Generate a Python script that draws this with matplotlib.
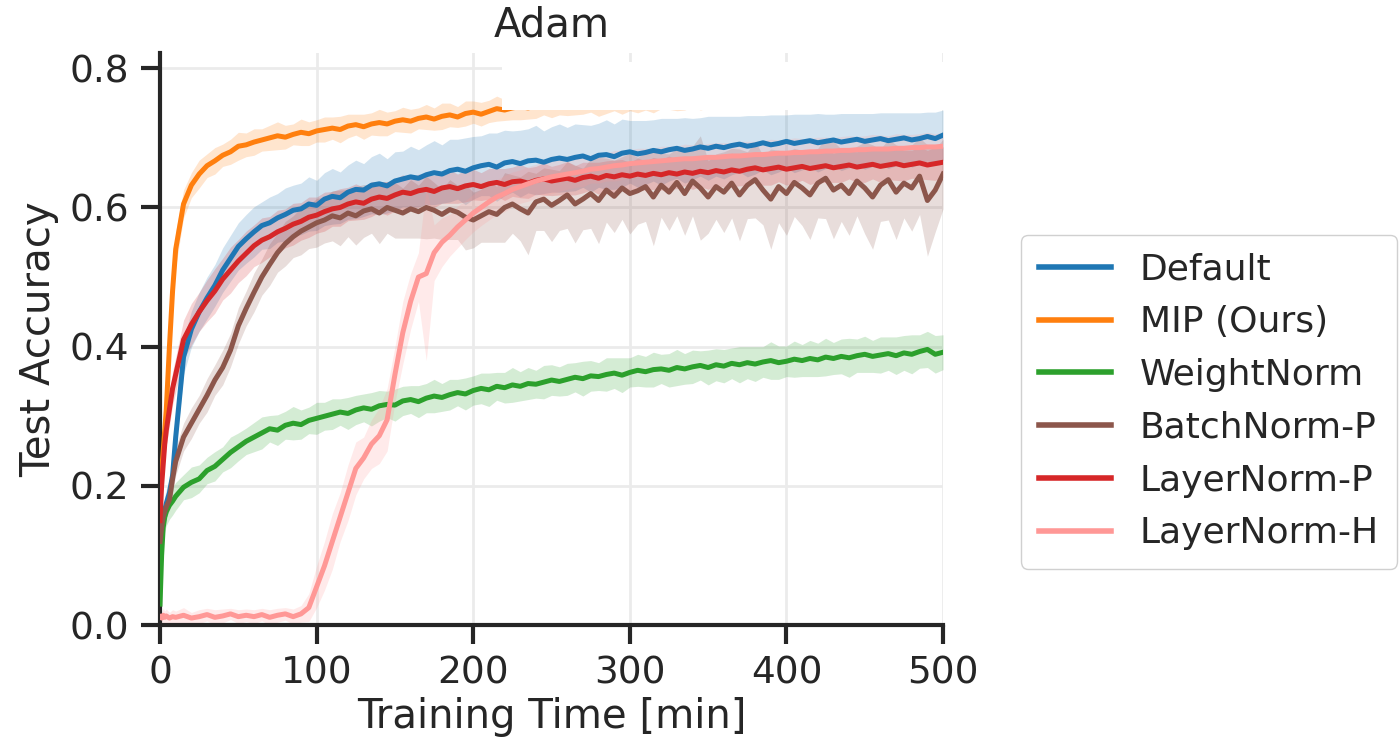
import matplotlib
matplotlib.use("Agg")
import matplotlib.pyplot as plt
from matplotlib.patches import Rectangle
import numpy as np

# eje x: minutos de entrenamiento
minutes = [0, 1, 2, 3, 4, 6, 8] + list(range(10, 505, 5))

labels = ["Default", "MIP (Ours)", "WeightNorm", "BatchNorm-P", "LayerNorm-P", "LayerNorm-H"]
colors = ["#1f77b4", "#ff7f0e", "#2ca02c", "#8c564b", "#d62728", "#ff9896"]

# valores medios
default_mean = [0.10, 0.13, 0.15, 0.165, 0.175, 0.19, 0.215,
    0.27, 0.385, 0.425, 0.45, 0.47, 0.488, 0.51, 0.527, 0.544, 0.555,
    0.565, 0.574, 0.578, 0.585, 0.59, 0.596, 0.598, 0.605, 0.603, 0.612,
    0.616, 0.614, 0.622, 0.626, 0.625, 0.632, 0.634, 0.631, 0.638, 0.641,
    0.644, 0.642, 0.647, 0.65, 0.648, 0.653, 0.655, 0.652, 0.657, 0.66,
    0.662, 0.658, 0.664, 0.666, 0.663, 0.667, 0.668, 0.665, 0.669, 0.671,
    0.669, 0.672, 0.674, 0.67, 0.675, 0.676, 0.673, 0.678, 0.68, 0.677,
    0.679, 0.682, 0.68, 0.683, 0.685, 0.682, 0.684, 0.687, 0.685, 0.688,
    0.686, 0.689, 0.691, 0.688, 0.69, 0.693, 0.69, 0.692, 0.695, 0.692,
    0.694, 0.696, 0.693, 0.695, 0.697, 0.694, 0.696, 0.698, 0.695, 0.697,
    0.699, 0.696, 0.698, 0.7, 0.697, 0.699, 0.702, 0.699, 0.704]
mip_mean = [0.20, 0.22, 0.25, 0.28, 0.31, 0.40, 0.48,
    0.54, 0.605, 0.632, 0.648, 0.66, 0.667, 0.675, 0.68, 0.688, 0.69,
    0.694, 0.697, 0.70, 0.703, 0.701, 0.705, 0.708, 0.706, 0.71, 0.712,
    0.714, 0.712, 0.717, 0.719, 0.716, 0.72, 0.722, 0.72, 0.724, 0.726,
    0.724, 0.728, 0.73, 0.727, 0.731, 0.733, 0.73, 0.735, 0.737, 0.734,
    0.738, 0.742, 0.74, 0.743, 0.745, 0.743, 0.746, 0.748, 0.746, 0.749,
    0.75, 0.748, 0.751, 0.753, 0.75, 0.752, 0.754, 0.752, 0.755, 0.753,
    0.756, 0.754, 0.757, 0.758, 0.755, 0.758, 0.76, 0.757, 0.759, 0.761,
    0.759, 0.762, 0.76, 0.763, 0.761, 0.764, 0.762, 0.765, 0.763, 0.766,
    0.764, 0.766, 0.765, 0.767, 0.765, 0.768, 0.766, 0.769, 0.767, 0.768,
    0.77, 0.768, 0.769, 0.771, 0.769, 0.77, 0.772, 0.77, 0.771]
weightnorm_mean = [0.03, 0.10, 0.14, 0.155, 0.163, 0.172, 0.178,
    0.185, 0.198, 0.205, 0.21, 0.222, 0.228, 0.238, 0.248, 0.256, 0.264,
    0.27, 0.276, 0.282, 0.28, 0.287, 0.29, 0.288, 0.294, 0.297, 0.3,
    0.303, 0.306, 0.304, 0.309, 0.312, 0.31, 0.315, 0.317, 0.316, 0.322,
    0.324, 0.321, 0.326, 0.329, 0.327, 0.331, 0.334, 0.332, 0.337, 0.34,
    0.338, 0.343, 0.341, 0.345, 0.343, 0.347, 0.346, 0.349, 0.352, 0.35,
    0.353, 0.356, 0.354, 0.358, 0.357, 0.36, 0.362, 0.359, 0.363, 0.366,
    0.364, 0.367, 0.368, 0.366, 0.37, 0.368, 0.371, 0.373, 0.37, 0.374,
    0.372, 0.376, 0.374, 0.377, 0.375, 0.378, 0.38, 0.377, 0.379, 0.382,
    0.38, 0.383, 0.381, 0.385, 0.383, 0.386, 0.384, 0.387, 0.389, 0.386,
    0.388, 0.39, 0.387, 0.391, 0.389, 0.393, 0.396, 0.389, 0.392]
batchnorm_mean = [0.12, 0.14, 0.155, 0.163, 0.17, 0.18, 0.21,
    0.235, 0.27, 0.29, 0.31, 0.33, 0.352, 0.37, 0.395, 0.43, 0.455,
    0.478, 0.5, 0.518, 0.535, 0.548, 0.558, 0.566, 0.572, 0.578, 0.582,
    0.588, 0.585, 0.592, 0.588, 0.595, 0.598, 0.592, 0.6, 0.596, 0.592,
    0.598, 0.594, 0.6, 0.596, 0.59, 0.597, 0.593, 0.586, 0.582, 0.588,
    0.594, 0.59, 0.6, 0.605, 0.598, 0.592, 0.608, 0.612, 0.603, 0.61,
    0.618, 0.605, 0.612, 0.62, 0.61, 0.625, 0.616, 0.628, 0.62, 0.624,
    0.63, 0.615, 0.632, 0.622, 0.636, 0.62, 0.638, 0.628, 0.615, 0.63,
    0.622, 0.635, 0.618, 0.632, 0.64, 0.625, 0.612, 0.63, 0.62, 0.636,
    0.628, 0.618, 0.635, 0.642, 0.625, 0.632, 0.62, 0.638, 0.628, 0.615,
    0.632, 0.64, 0.622, 0.635, 0.628, 0.645, 0.61, 0.625, 0.648]
layernorm_p_mean = [0.15, 0.2, 0.23, 0.26, 0.28, 0.31, 0.34,
    0.36, 0.41, 0.432, 0.45, 0.466, 0.48, 0.497, 0.51, 0.523, 0.534,
    0.545, 0.553, 0.558, 0.565, 0.57, 0.576, 0.58, 0.586, 0.589, 0.594,
    0.598, 0.6, 0.605, 0.608, 0.606, 0.612, 0.615, 0.613, 0.618, 0.622,
    0.62, 0.624, 0.626, 0.623, 0.628, 0.63, 0.627, 0.631, 0.633, 0.63,
    0.634, 0.636, 0.633, 0.637, 0.638, 0.635, 0.639, 0.641, 0.638, 0.64,
    0.642, 0.639, 0.643, 0.645, 0.642, 0.646, 0.644, 0.647, 0.645, 0.648,
    0.646, 0.649, 0.647, 0.65, 0.648, 0.651, 0.649, 0.652, 0.65, 0.653,
    0.651, 0.654, 0.652, 0.655, 0.657, 0.654, 0.656, 0.658, 0.655, 0.657,
    0.659, 0.656, 0.658, 0.66, 0.657, 0.659, 0.661, 0.658, 0.66, 0.662,
    0.659, 0.661, 0.663, 0.66, 0.662, 0.664, 0.661, 0.663, 0.665]
layernorm_h_mean = [0.012, 0.01, 0.014, 0.011, 0.013, 0.01, 0.012,
    0.011, 0.014, 0.01, 0.012, 0.015, 0.011, 0.013, 0.016, 0.012, 0.014,
    0.012, 0.015, 0.011, 0.014, 0.016, 0.012, 0.016, 0.025, 0.055, 0.085,
    0.12, 0.155, 0.19, 0.225, 0.24, 0.26, 0.272, 0.295, 0.36, 0.42,
    0.465, 0.50, 0.505, 0.535, 0.55, 0.56, 0.572, 0.582, 0.592, 0.60,
    0.608, 0.615, 0.62, 0.626, 0.63, 0.634, 0.638, 0.641, 0.644, 0.646,
    0.648, 0.65, 0.652, 0.655, 0.656, 0.658, 0.66, 0.661, 0.663, 0.664,
    0.665, 0.666, 0.667, 0.668, 0.669, 0.67, 0.67, 0.671, 0.672, 0.672,
    0.673, 0.674, 0.674, 0.675, 0.676, 0.676, 0.677, 0.678, 0.678, 0.679,
    0.679, 0.68, 0.68, 0.681, 0.681, 0.682, 0.682, 0.683, 0.683, 0.684,
    0.684, 0.684, 0.685, 0.685, 0.686, 0.686, 0.687, 0.687, 0.688]

# media anchura de la banda sombreada
default_band = [0.02, 0.02, 0.02, 0.02, 0.02, 0.02, 0.022,
    0.022, 0.025, 0.026, 0.028, 0.03, 0.03, 0.032, 0.033, 0.034, 0.035,
    0.036, 0.034, 0.037, 0.035, 0.038, 0.036, 0.037, 0.039, 0.036, 0.038,
    0.04, 0.037, 0.039, 0.042, 0.038, 0.041, 0.044, 0.039, 0.042, 0.04,
    0.044, 0.041, 0.043, 0.046, 0.042, 0.045, 0.043, 0.048, 0.045, 0.043,
    0.045, 0.049, 0.047, 0.044, 0.048, 0.046, 0.05, 0.045, 0.047, 0.049,
    0.046, 0.048, 0.045, 0.048, 0.046, 0.05, 0.047, 0.049, 0.045, 0.048,
    0.046, 0.044, 0.048, 0.045, 0.043, 0.047, 0.044, 0.042, 0.046, 0.043,
    0.045, 0.042, 0.04, 0.044, 0.042, 0.039, 0.043, 0.041, 0.038, 0.042,
    0.04, 0.038, 0.042, 0.039, 0.037, 0.041, 0.039, 0.037, 0.04, 0.038,
    0.037, 0.04, 0.038, 0.036, 0.039, 0.037, 0.035, 0.038, 0.036]
mip_band = [0.02, 0.03, 0.03, 0.03, 0.03, 0.03, 0.025,
    0.025, 0.02, 0.018, 0.02, 0.017, 0.019, 0.016, 0.018, 0.02, 0.017,
    0.019, 0.016, 0.018, 0.02, 0.017, 0.015, 0.019, 0.017, 0.016, 0.018,
    0.016, 0.019, 0.017, 0.015, 0.018, 0.016, 0.019, 0.017, 0.015, 0.018,
    0.017, 0.015, 0.018, 0.016, 0.019, 0.017, 0.015, 0.018, 0.016, 0.017,
    0.016, 0.018, 0.015, 0.017, 0.019, 0.016, 0.018, 0.015, 0.017, 0.016,
    0.018, 0.015, 0.017, 0.016, 0.019, 0.017, 0.015, 0.018, 0.016, 0.017,
    0.016, 0.018, 0.015, 0.017, 0.016, 0.018, 0.015, 0.017, 0.016, 0.018,
    0.015, 0.017, 0.016, 0.018, 0.015, 0.017, 0.016, 0.018, 0.015, 0.017,
    0.016, 0.018, 0.015, 0.017, 0.016, 0.018, 0.015, 0.017, 0.016, 0.018,
    0.015, 0.017, 0.016, 0.018, 0.015, 0.017, 0.016, 0.018, 0.016]
weightnorm_band = [0.01, 0.02, 0.02, 0.02, 0.02, 0.02, 0.02,
    0.02, 0.018, 0.022, 0.02, 0.019, 0.021, 0.018, 0.022, 0.02, 0.019,
    0.021, 0.023, 0.019, 0.022, 0.02, 0.024, 0.021, 0.019, 0.023, 0.02,
    0.022, 0.019, 0.023, 0.021, 0.02, 0.024, 0.022, 0.019, 0.023, 0.021,
    0.02, 0.023, 0.021, 0.024, 0.02, 0.022, 0.019, 0.023, 0.021, 0.022,
    0.024, 0.02, 0.022, 0.025, 0.021, 0.023, 0.02, 0.024, 0.022, 0.021,
    0.023, 0.021, 0.025, 0.022, 0.02, 0.024, 0.022, 0.025, 0.021, 0.023,
    0.022, 0.025, 0.021, 0.024, 0.026, 0.022, 0.024, 0.021, 0.025, 0.023,
    0.024, 0.022, 0.026, 0.023, 0.025, 0.022, 0.027, 0.024, 0.022, 0.026,
    0.023, 0.026, 0.024, 0.027, 0.023, 0.025, 0.028, 0.024, 0.026, 0.023,
    0.026, 0.024, 0.027, 0.025, 0.028, 0.024, 0.026, 0.027, 0.025]
batchnorm_band = [0.01, 0.015, 0.015, 0.015, 0.015, 0.015, 0.02,
    0.02, 0.02, 0.022, 0.02, 0.024, 0.022, 0.025, 0.024, 0.026, 0.025,
    0.028, 0.026, 0.03, 0.028, 0.032, 0.03, 0.034, 0.031, 0.035, 0.033,
    0.036, 0.04, 0.034, 0.042, 0.038, 0.035, 0.044, 0.037, 0.04, 0.036,
    0.042, 0.038, 0.045, 0.04, 0.036, 0.043, 0.039, 0.047, 0.04, 0.038,
    0.044, 0.04, 0.05, 0.042, 0.046, 0.06, 0.041, 0.045, 0.052, 0.043,
    0.048, 0.056, 0.044, 0.05, 0.062, 0.046, 0.052, 0.045, 0.058, 0.048,
    0.05, 0.07, 0.046, 0.055, 0.048, 0.06, 0.05, 0.075, 0.052, 0.047,
    0.058, 0.05, 0.066, 0.048, 0.055, 0.05, 0.072, 0.052, 0.06, 0.049,
    0.054, 0.064, 0.05, 0.058, 0.07, 0.052, 0.06, 0.05, 0.066, 0.075,
    0.052, 0.058, 0.068, 0.05, 0.062, 0.055, 0.08, 0.06, 0.05]
layernorm_p_band = [0.02, 0.02, 0.02, 0.022, 0.022, 0.024, 0.024,
    0.025, 0.028, 0.03, 0.028, 0.03, 0.032, 0.03, 0.033, 0.031, 0.032,
    0.03, 0.032, 0.029, 0.031, 0.028, 0.03, 0.027, 0.029, 0.026, 0.028,
    0.025, 0.027, 0.024, 0.026, 0.023, 0.025, 0.022, 0.024, 0.023, 0.025,
    0.022, 0.024, 0.021, 0.023, 0.022, 0.024, 0.021, 0.023, 0.022, 0.02,
    0.022, 0.02, 0.023, 0.021, 0.024, 0.022, 0.02, 0.023, 0.021, 0.022,
    0.024, 0.021, 0.022, 0.02, 0.023, 0.021, 0.024, 0.022, 0.02, 0.023,
    0.021, 0.023, 0.022, 0.024, 0.021, 0.02, 0.023, 0.022, 0.024, 0.021,
    0.022, 0.024, 0.021, 0.023, 0.02, 0.022, 0.024, 0.021, 0.023, 0.022,
    0.02, 0.023, 0.022, 0.024, 0.021, 0.023, 0.02, 0.022, 0.024, 0.021,
    0.023, 0.021, 0.024, 0.022, 0.02, 0.023, 0.021, 0.024, 0.022]
layernorm_h_band = [0.008, 0.008, 0.01, 0.009, 0.01, 0.008, 0.01,
    0.009, 0.011, 0.008, 0.01, 0.009, 0.011, 0.01, 0.008, 0.01, 0.009,
    0.01, 0.009, 0.011, 0.01, 0.009, 0.011, 0.012, 0.02, 0.03, 0.035,
    0.04, 0.035, 0.04, 0.038, 0.03, 0.035, 0.04, 0.045, 0.04, 0.045,
    0.04, 0.035, 0.125, 0.04, 0.035, 0.03, 0.03, 0.028, 0.027, 0.026,
    0.026, 0.025, 0.026, 0.025, 0.024, 0.025, 0.024, 0.025, 0.024, 0.023,
    0.022, 0.021, 0.022, 0.02, 0.021, 0.02, 0.022, 0.021, 0.02, 0.021,
    0.02, 0.019, 0.021, 0.02, 0.019, 0.021, 0.02, 0.019, 0.02, 0.021,
    0.02, 0.019, 0.021, 0.02, 0.019, 0.02, 0.021, 0.019, 0.02, 0.021,
    0.02, 0.019, 0.021, 0.02, 0.019, 0.02, 0.021, 0.019, 0.02, 0.021,
    0.02, 0.019, 0.021, 0.02, 0.019, 0.02, 0.021, 0.019, 0.02]

means = [default_mean, mip_mean, weightnorm_mean, batchnorm_mean, layernorm_p_mean, layernorm_h_mean]
bands = [default_band, mip_band, weightnorm_band, batchnorm_band, layernorm_p_band, layernorm_h_band]

plt.rcParams["font.family"] = "DejaVu Sans"
plt.rcParams["text.color"] = "#262626"
plt.rcParams["axes.labelcolor"] = "#262626"
plt.rcParams["xtick.color"] = "#262626"
plt.rcParams["ytick.color"] = "#262626"

fig = plt.figure(figsize=(13.99, 7.43), dpi=100)
ax = fig.add_axes([0.1144, 0.1588, 0.5597, 0.7699])

x = np.array(minutes)
for m, b, lab, c in zip(means, bands, labels, colors):
    m = np.array(m)
    b = np.array(b)
    ax.plot(x, m, color=c, lw=3.6, label=lab, zorder=3)
    ax.fill_between(x, m - b, m + b, color=c, alpha=0.2, lw=0, zorder=2)

ax.set_xlim(0, 500)
ax.set_ylim(0, 0.822)
ax.set_xticks([0, 100, 200, 300, 400, 500])
ax.set_yticks([0.0, 0.2, 0.4, 0.6, 0.8])
ax.set_yticklabels(["0.0", "0.2", "0.4", "0.6", "0.8"])
ax.grid(True, color="#ebebeb", lw=2, zorder=0)
ax.set_axisbelow(True)
for s in ["top", "right"]:
    ax.spines[s].set_visible(False)
for s in ["left", "bottom"]:
    ax.spines[s].set_linewidth(3)
    ax.spines[s].set_color("#262626")
ax.tick_params(axis="both", labelsize=27, length=14, width=3, pad=8)
ax.set_xlabel("Training Time [min]", fontsize=29, labelpad=4)
ax.set_ylabel("Test Accuracy", fontsize=29, labelpad=8)
ax.set_title("Adam", fontsize=29, pad=12)

leg = fig.legend(loc="center left", bbox_to_anchor=(0.7166, 0.4596), fontsize=26,
                 frameon=True, fancybox=True, framealpha=1, edgecolor="#d0d0d0",
                 handlelength=2.0, handletextpad=0.8, labelspacing=0.52, borderpad=0.5)
for h in leg.get_lines():
    h.set_linewidth(4)

# recuadro blanco que tapa la parte superior
fig.patches.append(Rectangle((502 / 1399, 1 - 110 / 743), 445 / 1399, 48 / 743,
                             transform=fig.transFigure, facecolor="white",
                             edgecolor="none", zorder=10))

fig.savefig("out.png", dpi=100)
